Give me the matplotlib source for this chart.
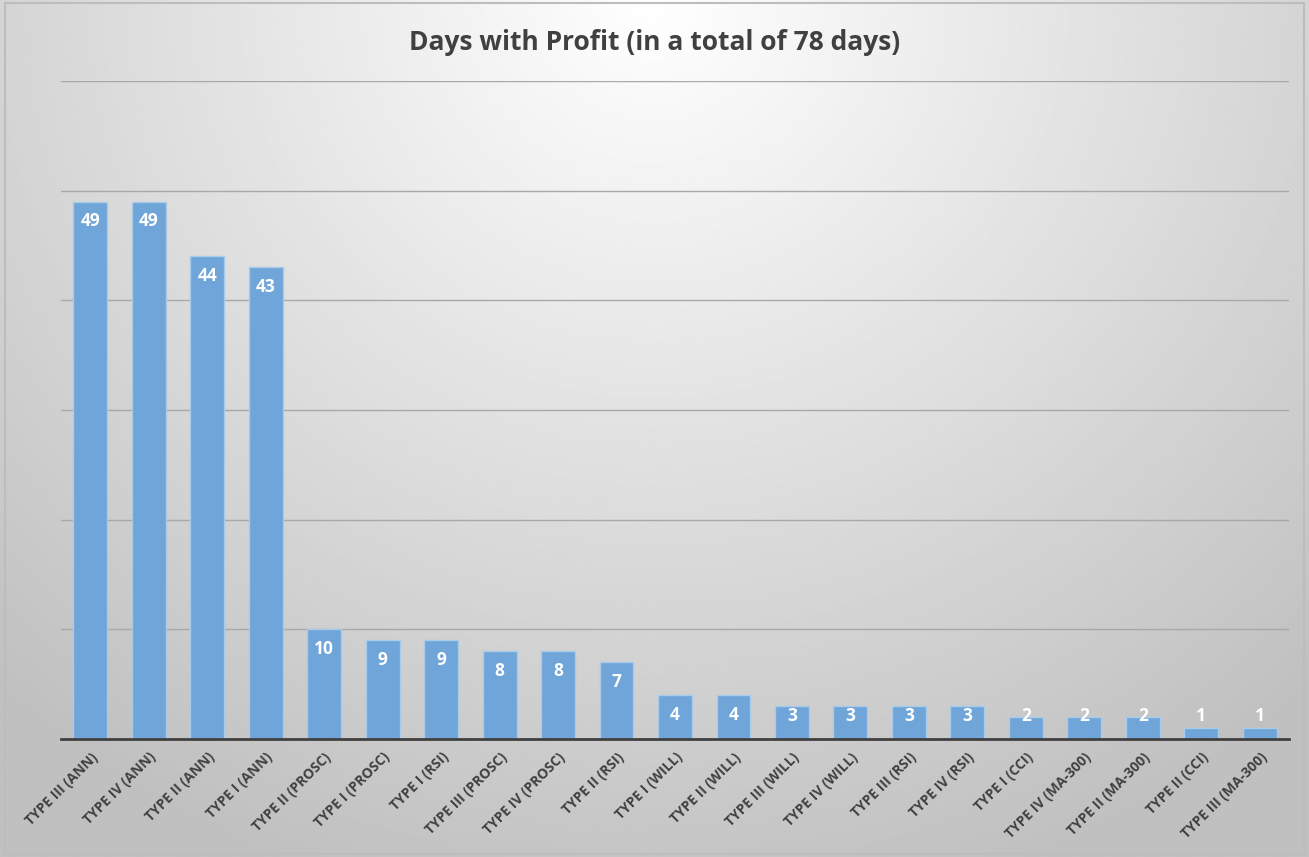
import numpy as np
import matplotlib.pyplot as plt

plt.rcParams['font.family'] = ['Open Sans', 'DejaVu Sans']

categories = [
    "TYPE III (ANN)", "TYPE IV (ANN)", "TYPE II (ANN)", "TYPE I (ANN)",
    "TYPE II (PROSC)", "TYPE I (PROSC)", "TYPE I (RSI)", "TYPE III (PROSC)",
    "TYPE IV (PROSC)", "TYPE II (RSI)", "TYPE I (WILL)", "TYPE II (WILL)",
    "TYPE III (WILL)", "TYPE IV (WILL)", "TYPE III (RSI)", "TYPE IV (RSI)",
    "TYPE I (CCI)", "TYPE IV (MA-300)", "TYPE II (MA-300)", "TYPE II (CCI)",
    "TYPE III (MA-300)",
]
days = [49, 49, 44, 43, 10, 9, 9, 8, 8, 7, 4, 4, 3, 3, 3, 3, 2, 2, 2, 1, 1]

W, H = 1309, 857
fig = plt.figure(figsize=(W / 100, H / 100), dpi=100)

# radial grey background like the Office chart style
bg = fig.add_axes([0, 0, 1, 1], zorder=-10)
yy, xx = np.mgrid[0:1:300j, 0:1:450j]
r = np.sqrt(((xx - 0.5) / 0.75) ** 2 + ((yy - 0.0) / 1.1) ** 2)
shade = np.clip(1.0 - 0.25 * r, 0.75, 1.0)
bg.imshow(shade, cmap="gray", vmin=0, vmax=1, aspect="auto",
          extent=[0, 1, 1, 0], interpolation="bilinear")
bg.axis("off")
# thin frame round the chart area
fig.patches.append(plt.Rectangle((0.004, 0.004), 0.992, 0.992, transform=fig.transFigure,
                                 fill=False, edgecolor="#bdbdbd", linewidth=1.5))

ax = fig.add_axes([61 / W, 118 / H, (1289 - 61) / W, (776 - 118) / H])
ax.set_facecolor("none")

x = np.arange(len(categories))
ax.bar(x, days, width=0.58, color="#6fa5d8", edgecolor="#a9cbea",
       linewidth=1.0, zorder=3)

for xi, v in zip(x, days):
    ax.text(xi, max(v - 1.8, 2.1), str(v), ha="center", va="center",
            color="white", fontsize=12.5, fontweight="bold", zorder=4)

ax.set_xlim(-0.5, len(categories) - 0.5)
ax.set_ylim(0, 60)
ax.set_yticks(np.arange(0, 61, 10))
ax.set_yticklabels([])
ax.tick_params(axis="y", length=0)
ax.grid(axis="y", color="#a8a8a8", linewidth=1.0, zorder=0)
ax.set_axisbelow(True)

ax.set_xticks(x)
ax.set_xticklabels(categories, rotation=45, ha="right", rotation_mode="anchor",
                   fontsize=10, fontweight="bold", color="#404040")
ax.tick_params(axis="x", length=0, pad=8)

for s in ["top", "right", "left"]:
    ax.spines[s].set_visible(False)
ax.spines["bottom"].set_color("#404040")
ax.spines["bottom"].set_linewidth(2)
ax.spines["bottom"].set_zorder(5)

fig.text(0.5, 1 - 43 / H, "Days with Profit (in a total of 78 days)",
         ha="center", va="center", fontsize=19, fontweight="bold",
         color="#404040")

fig.savefig("out.png", dpi=100)
